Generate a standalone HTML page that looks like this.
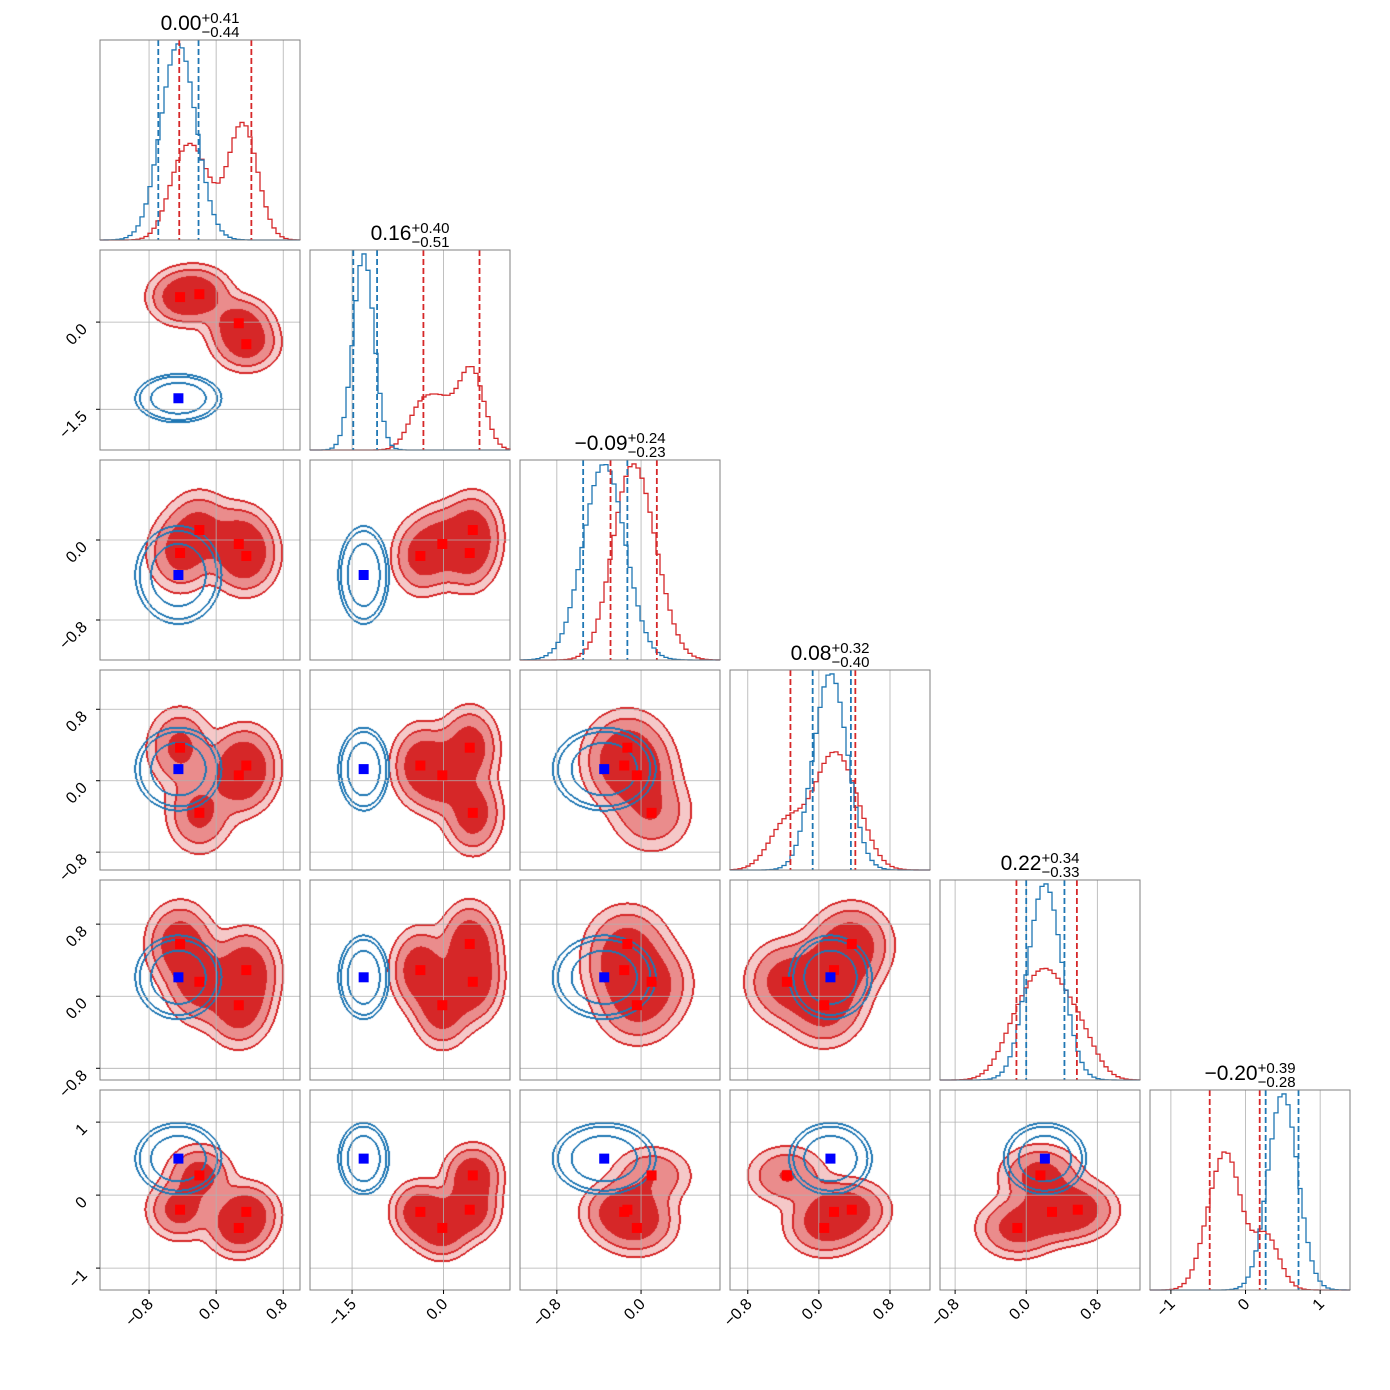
<!DOCTYPE html>
<html><head><meta charset="utf-8">
<style>
html,body{margin:0;padding:0;background:#fff;}
#wrap{position:relative;width:1390px;height:1390px;font-family:"Liberation Sans","DejaVu Sans",sans-serif;}
canvas,svg{position:absolute;left:0;top:0;}
</style></head>
<body>
<div id="wrap">
<canvas id="cv" width="1390" height="1390"></canvas>
<svg id="sv" width="1390" height="1390" xmlns="http://www.w3.org/2000/svg"></svg>
</div>
<script>
// ---- data ----
const redMeans0 = [-0.43, -0.2, 0.27, 0.36];
const redMeans1 = [0.43, 0.48, -0.02, -0.38];
const redMeans2 = [-0.13, 0.1, -0.04, -0.16];
const redMeans3 = [0.37, -0.36, 0.06, 0.17];
const redMeans4 = [0.58, 0.16, -0.1, 0.29];
const redMeans5 = [-0.2, 0.27, -0.45, -0.23];
const redSigma = [0.2, 0.24, 0.2, 0.23, 0.23, 0.21];
const blueMean = [-0.45, -1.31, -0.35, 0.13, 0.21, 0.5];
const blueSigma = [0.21, 0.17, 0.2, 0.19, 0.19, 0.2];
const redQuant = [[-0.44,0.42],[-0.33,0.59],[-0.29,0.15],[-0.32,0.41],[-0.11,0.57],[-0.48,0.19]];
const blueQuant = [[-0.69,-0.21],[-1.48,-1.09],[-0.55,-0.13],[-0.07,0.36],[0,0.43],[0.27,0.71]];
const titles = [["0.00","+0.41","−0.44"],["0.16","+0.40","−0.51"],["−0.09","+0.24","−0.23"],["0.08","+0.32","−0.40"],["0.22","+0.34","−0.33"],["−0.20","+0.39","−0.28"]];
const colLo = [-1.385,-2.19,-1.15,-1.0,-0.97,-1.28];
const colHi = [1.0,1.09,0.75,1.25,1.28,1.4];
const rowLo = [-1.385,-2.2,-1.2,-1.0,-0.93,-1.3];
const rowHi = [1.0,1.24,0.8,1.24,1.29,1.44];
const ticks = [[-0.8,0,0.8],[-1.5,0],[-0.8,0],[-0.8,0,0.8],[-0.8,0,0.8],[-1,0,1]];
const tickLabels = [["−0.8","0.0","0.8"],["−1.5","0.0"],["−0.8","0.0"],["−0.8","0.0","0.8"],["−0.8","0.0","0.8"],["−1","0","1"]];
// ----
const redMeans=[redMeans0,redMeans1,redMeans2,redMeans3,redMeans4,redMeans5];
const N=6, X0=100, Y0=40, STEP=210, S=200;
function px(j,v){return X0+STEP*j+(v-colLo[j])/(colHi[j]-colLo[j])*S;}
function py(i,v){return Y0+STEP*i+S-(v-rowLo[i])/(rowHi[i]-rowLo[i])*S;}
function vx(j,p){return colLo[j]+p/S*(colHi[j]-colLo[j]);}
function vy(i,p){return rowHi[i]-p/S*(rowHi[i]-rowLo[i]);}
const svg=document.getElementById('sv');
const NS='http://www.w3.org/2000/svg';
function mk(tag,attrs,parent){const e=document.createElementNS(NS,tag);for(const k in attrs)e.setAttribute(k,attrs[k]);(parent||svg).appendChild(e);return e;}
const ctx=document.getElementById('cv').getContext('2d');
const TR=[0.07,0.18,0.42];
const TB=[0.05,0.09,0.3];
function g1(x,m,s){const d=(x-m)/s;return Math.exp(-0.5*d*d);}
function redD(i,j,x,y){let t=0;for(let k=0;k<4;k++)t+=g1(x,redMeans[j][k],redSigma[j])*g1(y,redMeans[i][k],redSigma[i]);return t;}
function blueD(i,j,x,y){return g1(x,blueMean[j],blueSigma[j])*g1(y,blueMean[i],blueSigma[i]);}
function lv(d,T){let l=0;for(const t of T)if(d>=t)l++;return l;}
const fillR=[null,[245,200,200],[234,140,140],[214,39,40]];
for(let i=1;i<N;i++)for(let j=0;j<i;j++){
  const img=ctx.createImageData(S,S);const D=img.data;
  const R=new Float32Array(S*S),B=new Float32Array(S*S);let mr=0;
  for(let p=0;p<S;p++)for(let q=0;q<S;q++){const x=vx(j,q+0.5),y=vy(i,p+0.5);const r=redD(i,j,x,y),b=blueD(i,j,x,y);R[p*S+q]=r;B[p*S+q]=b;if(r>mr)mr=r;}
  const LR=new Uint8Array(S*S),LB=new Uint8Array(S*S);
  for(let k=0;k<S*S;k++){LR[k]=lv(R[k]/mr,TR);LB[k]=lv(B[k],TB);}
  for(let p=0;p<S;p++)for(let q=0;q<S;q++){
    const k=p*S+q;let c=[255,255,255];
    if(LR[k]>0)c=fillR[LR[k]];
    const edgeR=(q<S-1&&LR[k]!==LR[k+1])||(p<S-1&&LR[k]!==LR[k+S])||(q>0&&LR[k]!==LR[k-1])||(p>0&&LR[k]!==LR[k-S]);
    if(edgeR)c=[214,39,40];
    const edgeB=(q<S-1&&LB[k]!==LB[k+1])||(p<S-1&&LB[k]!==LB[k+S])||(q>0&&LB[k]!==LB[k-1])||(p>0&&LB[k]!==LB[k-S]);
    if(edgeB)c=[31,119,180];
    D[k*4]=c[0];D[k*4+1]=c[1];D[k*4+2]=c[2];D[k*4+3]=255;}
  ctx.putImageData(img,X0+STEP*j,Y0+STEP*i);
}
for(let i=0;i<N;i++)for(let j=0;j<=i;j++){
  const g=mk('g',{});
  
  
  const x0=X0+STEP*j,y0=Y0+STEP*i;
  ticks[j].forEach(t=>{const x=px(j,t);mk('line',{x1:x,x2:x,y1:y0,y2:y0+S,stroke:'#b0b0b0','stroke-width':0.8},g);});
  if(i!==j) ticks[i].forEach(t=>{const y=py(i,t);mk('line',{x1:x0,x2:x0+S,y1:y,y2:y,stroke:'#b0b0b0','stroke-width':0.8},g);});
  if(i===j){
    const nb=50,lo=colLo[j],hi=colHi[j],w=(hi-lo)/nb;
    const rv=[],bv=[];
    for(let b=0;b<nb;b++){const c=lo+(b+0.5)*w;let r=0;for(let k=0;k<4;k++)r+=g1(c,redMeans[j][k],redSigma[j]*0.85)/4;rv.push(r/(redSigma[j]*0.85));bv.push(g1(c,blueMean[j],blueSigma[j])/blueSigma[j]);}
    const mx=Math.max(...rv,...bv)*1.02;
    [[rv,'#d62728','red'],[bv,'#1f77b4','blue']].forEach(([arr,col,nm])=>{
      let d='M'+x0+','+(y0+S);
      arr.forEach((v,b)=>{const xa=px(j,lo+b*w),xb=px(j,lo+(b+1)*w),y=y0+S-v/mx*S;d+=' L'+xa+','+y+' L'+xb+','+y;});
      d+=' L'+(x0+S)+','+(y0+S);
      const h=mk('path',{d:d,fill:'none',stroke:col,'stroke-width':1.3},g);
      
      
    });
    [[redQuant[j],'#d62728','red'],[blueQuant[j],'#1f77b4','blue']].forEach(([qs,col,nm])=>qs.forEach(q=>{const x=px(j,q);const l=mk('line',{x1:x,x2:x,y1:y0,y2:y0+S,stroke:col,'stroke-width':1.8,'stroke-dasharray':'6,3'},g);
      
      }));
    const tg=mk('g',{},g);
    
    
    const t=mk('text',{x:0,y:y0-10,'font-size':21,fill:'#000'},tg);t.textContent=titles[j][0];
    const mw=t.getComputedTextLength();
    const sp=mk('text',{x:0,y:y0-17,'font-size':15,fill:'#000'},tg);sp.textContent=titles[j][1];
    const sb=mk('text',{x:0,y:y0-3,'font-size':15,fill:'#000'},tg);sb.textContent=titles[j][2];
    const sw=Math.max(sp.getComputedTextLength(),sb.getComputedTextLength());
    const left=x0+S/2-(mw+sw)/2;
    t.setAttribute('x',left);sp.setAttribute('x',left+mw);sb.setAttribute('x',left+mw);
  } else {
    for(let k=0;k<4;k++){const m=mk('rect',{x:px(j,redMeans[j][k])-5,y:py(i,redMeans[i][k])-5,width:10,height:10,fill:'#ff0000'},g);
      
      }
    const bm=mk('rect',{x:px(j,blueMean[j])-5,y:py(i,blueMean[i])-5,width:10,height:10,fill:'#0000ff'},g);
    
    
  }
  mk('rect',{x:x0,y:y0,width:S,height:S,fill:'none',stroke:'#808080','stroke-width':1},g);
}
for(let j=0;j<N;j++){const yb=Y0+STEP*5+S;ticks[j].forEach((t,k)=>{const x=px(j,t);
  mk('line',{x1:x,x2:x,y1:yb,y2:yb+4,stroke:'#000'});
  const e=mk('text',{x:x+5,y:yb+15,'font-size':16,'text-anchor':'end',transform:'rotate(-45 '+(x+5)+' '+(yb+15)+')'});
  
  
  e.textContent=tickLabels[j][k];});}
for(let i=1;i<N;i++){ticks[i].forEach((t,k)=>{const y=py(i,t);
  mk('line',{x1:X0-4,x2:X0,y1:y,y2:y,stroke:'#000'});
  const e=mk('text',{x:X0-12,y:y+8,'font-size':16,'text-anchor':'end',transform:'rotate(-45 '+(X0-12)+' '+(y+8)+')'});
  
  
  e.textContent=tickLabels[i][k];});}
</script>
</body></html>
